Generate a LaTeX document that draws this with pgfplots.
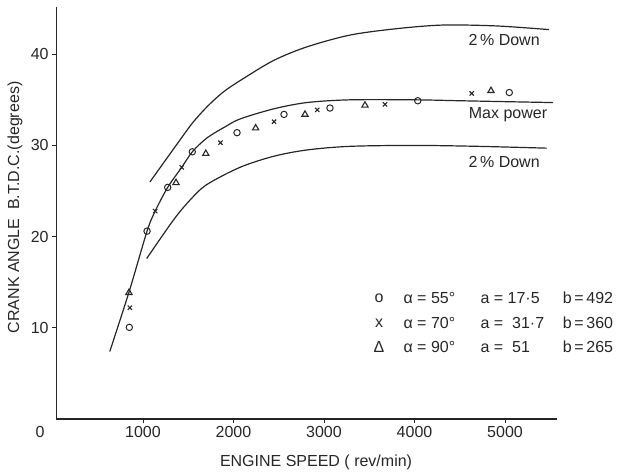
\documentclass[border=0pt]{standalone}
\usepackage{fontspec}
\setmainfont{Liberation Sans}
\usepackage{pgfplots}
\pgfplotsset{compat=1.18}
\newcommand\f{\fontsize{16}{19}\selectfont}
\colorlet{ink}{black!85}
\begin{document}
\begin{tikzpicture}
\useasboundingbox (-56.1pt,-54pt) rectangle (560.9pt,419pt);
\begin{axis}[
    scale only axis,
    width=500.5pt, height=412pt,
    xmin=40, xmax=5570, ymin=0, ymax=45.18,
    axis x line=bottom, axis y line=left,
    axis line style={-, line width=1.1pt, ink},
    xtick={1000,2000,3000,4000,5000},
    ytick={10,20,30,40},
    tick align=outside, major tick length=4pt,
    tick style={line width=0.9pt, ink},
    tick label style={font=\f, text=ink},
    /pgf/number format/assume math mode=true,
    /pgf/number format/1000 sep={},
    scaled x ticks=false,
    clip=false,
]
% curves
\addplot[ink, line width=1.2pt, smooth] coordinates {
    (1077,26.0) (1409,30.6) (1550,32.5) (1704,34.2) (1880,35.8)
    (2072,37.1) (2440,39.3) (2809,40.8) (3287,42.1) (3800,42.8)
    (4315,43.2) (4911,43.1) (5486,42.7)
};
\addplot[ink, line width=1.2pt, smooth] coordinates {
    (633,7.4) (845,13.9) (1045,20.6) (1135,22.8) (1273,25.4)
    (1428,27.6) (1545,29.3) (1704,30.8) (1900,32.0) (2072,32.9)
    (2440,34.0) (2809,34.7) (3287,35.0) (4000,35.0)
    (4500,34.9) (5000,34.8) (5530,34.7)
};
\addplot[ink, line width=1.2pt, smooth] coordinates {
    (1041,17.6) (1335,21.8) (1519,24.0) (1704,25.7) (2072,27.6)
    (2440,28.8) (2809,29.5) (3287,29.9) (4000,30.0) (4700,29.9)
    (5460,29.7)
};
% alpha = 55
\addplot[only marks, mark=o, mark size=3.2pt, mark options={line width=1pt, ink, fill=white}] coordinates {
    (849,10.05) (1045,20.6) (1273,25.4) (1545,29.3) (2039,31.4)
    (2558,33.4) (3066,34.1) (4036,34.9) (5047,35.8)
};
% alpha = 70
\addplot[only marks, mark=x, mark size=3pt, mark options={line width=1.1pt, ink}] coordinates {
    (856,12.2) (1135,22.8) (1428,27.6) (1856,30.3) (2448,32.6)
    (2926,33.9) (3674,34.5) (4632,35.7)
};
% alpha = 90
\addplot[only marks, mark=triangle, mark size=3.6pt, mark options={line width=1.1pt, ink, fill=white}] coordinates {
    (845,13.85) (1365,25.9) (1694,29.1) (2245,31.9) (2790,33.4)
    (3453,34.4) (4845,36.0)
};
% labels
\node[font=\f, text=ink] at (axis cs:4990,41.56) {2\,\% Down};
\node[font=\f, text=ink] at (axis cs:5033,33.4) {Max power};
\node[font=\f, text=ink] at (axis cs:4990,28.2) {2\,\% Down};
\node[font=\f, text=ink] at (axis cs:-138,-1.43) {0};
\node[font=\f, text=ink] at (axis cs:2912,-4.71) {ENGINE SPEED ( rev/min)};
\node[font=\f, text=ink, rotate=90] at (axis cs:-414,23.2) {CRANK ANGLE \ B.T.D.C.(degrees)};
% key
\node[font=\f, text=ink] at (axis cs:3608,13.27) {o};
\node[font=\f, text=ink] at (axis cs:3608,10.53) {x};
\node[font=\f, text=ink] at (axis cs:3608,7.89) {Δ};
\node[font=\f, text=ink, anchor=west] at (axis cs:3840,13.27) {α = 55°};
\node[font=\f, text=ink, anchor=west] at (axis cs:3840,10.53) {α = 70°};
\node[font=\f, text=ink, anchor=west] at (axis cs:3840,7.89) {α = 90°};
\node[font=\f, text=ink, anchor=west] at (axis cs:4691,13.27) {a = 17·5};
\node[font=\f, text=ink, anchor=west] at (axis cs:4691,10.53) {a = \ 31·7};
\node[font=\f, text=ink, anchor=west] at (axis cs:4691,7.89) {a = \ 51};
\node[font=\f, text=ink, anchor=west] at (axis cs:5600,13.27) {b\,=\,492};
\node[font=\f, text=ink, anchor=west] at (axis cs:5600,10.53) {b\,=\,360};
\node[font=\f, text=ink, anchor=west] at (axis cs:5600,7.89) {b\,=\,265};
\end{axis}
\end{tikzpicture}
\end{document}
